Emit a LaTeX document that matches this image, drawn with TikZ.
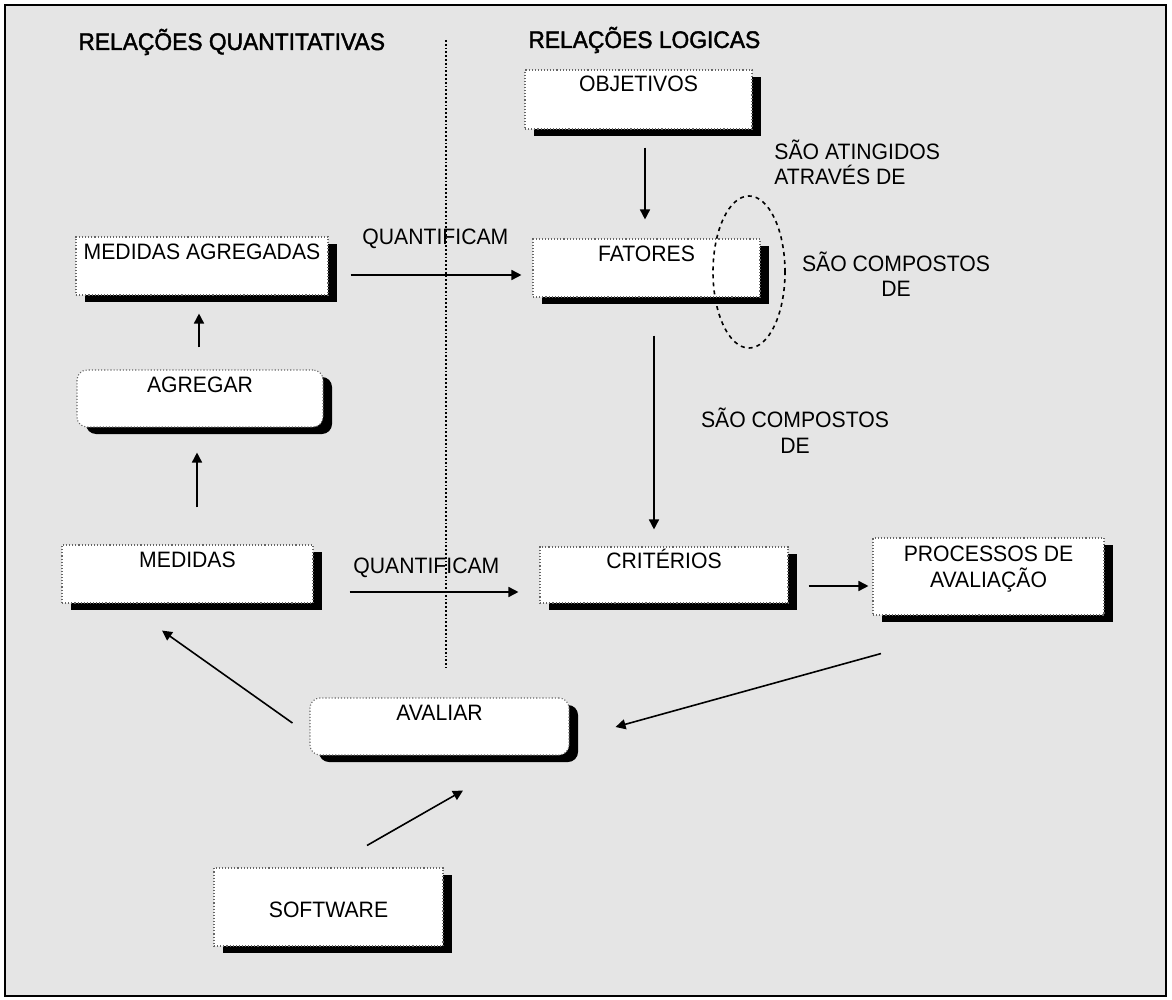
\documentclass[tikz,border=0pt]{standalone}
\usepackage{fontspec}
\setmainfont{Liberation Sans}[FakeStretch=0.95]
\newfontfamily\headfam{Liberation Sans}[FakeStretch=0.95,FakeBold=1.8]
\usetikzlibrary{arrows.meta,calc,shadows}
\newcommand\bxfont{\fontsize{11.15pt}{12.75pt}\selectfont}
\newcommand\hdfont{\headfam\fontsize{12pt}{14pt}\selectfont}
% two centred lines / two left-aligned lines; baseline = last line
\newcommand\twoc[2]{\vbox{\halign{\hfil##\hfil\cr#1\cr#2\cr}}}
\newcommand\twol[2]{\vbox{\halign{##\hfil\cr#1\cr#2\cr}}}
\begin{document}
\begin{tikzpicture}[x=0.5pt,y=-0.5pt,
  box/.style={draw=black!60, densely dotted, line width=0.55pt, fill=white,
    inner sep=0pt, font=\bxfont,
    drop shadow={shadow xshift=4.5pt, shadow yshift=-3.5pt, fill=black, opacity=1}},
  rbox/.style={box, rounded corners=5pt},
  lbl/.style={inner sep=0pt, font=\bxfont},
  head/.style={inner sep=0pt, font=\hdfont},
  arr/.style={-{Triangle[length=5pt,width=5pt]}, line width=0.8pt},
  divider/.style={densely dotted, line width=0.9pt},
  group/.style={dash pattern=on 2pt off 2pt, line width=0.8pt}]

\useasboundingbox (0,0) rectangle (1172,1000);
\fill[white] (0,0) rectangle (1172,1000);
\draw[fill=black!10, line width=1.1pt] (5,5) rectangle (1166,996);

% headings and the dividing line
\node[head, anchor=base west] (hquant) at (78,50) {RELAÇÕES QUANTITATIVAS};
\node[head, anchor=base west] (hlog) at (528,48) {RELAÇÕES LOGICAS};
\draw[divider] (446,40) -- (446,668);

% boxes
\node[box, minimum width=113.5pt, minimum height=29.5pt, text height=11pt, text depth=18.5pt]
  (objetivos) at (638.5,99.5) {OBJETIVOS};
\node[box, minimum width=113.5pt, minimum height=29pt, text height=11.5pt, text depth=17.5pt]
  (fatores) at (646.5,268) {FATORES};
\node[box, minimum width=126pt, minimum height=29pt, text height=11.5pt, text depth=17.5pt]
  (medagr) at (202,266) {MEDIDAS AGREGADAS};
\node[rbox, minimum width=123pt, minimum height=28.5pt, text height=11pt, text depth=17.5pt]
  (agregar) at (200,398.5) {AGREGAR};
\node[box, minimum width=125.5pt, minimum height=29pt, text height=11pt, text depth=18pt]
  (medidas) at (187.5,574) {MEDIDAS};
\node[box, minimum width=124pt, minimum height=28pt, text height=10.5pt, text depth=17.5pt]
  (criterios) at (664,575) {CRITÉRIOS};
\node[box, minimum width=115.5pt, minimum height=38.5pt, text height=24.5pt, text depth=14pt]
  (processos) at (988.5,576.5) {\twoc{PROCESSOS DE}{AVALIAÇÃO}};
\node[rbox, minimum width=129.5pt, minimum height=28.5pt, text height=11pt, text depth=17.5pt]
  (avaliar) at (439.5,726.5) {AVALIAR};
\node[box, minimum width=114.5pt, minimum height=39pt, text height=24.5pt, text depth=14.5pt]
  (software) at (328.5,907) {SOFTWARE};

% relation labels
\node[lbl, anchor=base west] (qtop) at (362,245) {QUANTIFICAM};
\node[lbl, anchor=base west] (qbot) at (353,573) {QUANTIFICAM};
\node[lbl, anchor=base west] (atingidos) at (774,185) {\twol{SÃO ATINGIDOS}{ATRAVÉS DE}};
\node[lbl, anchor=base] (comp1) at (896,297) {\twoc{SÃO COMPOSTOS}{DE}};
\node[lbl, anchor=base] (comp2) at (795,453) {\twoc{SÃO COMPOSTOS}{DE}};

% grouping ellipse around the factors
\draw[group] (749,272) ellipse [x radius=18pt, y radius=38pt];

% connectors
\draw[arr] ($(objetivos.south)+(6.5,18)$) -- ($(fatores.north)+(-1.5,-19)$);
\draw[arr] ($(fatores.south)+(7.5,38)$) -- ($(criterios.north)+(-10,-17)$);
\draw[arr] ($(medagr.east)+(22,9)$) -- ($(fatores.west)+(-11,7)$);
\draw[arr] ($(medidas.east)+(36,18)$) -- ($(criterios.west)+(-21,17)$);
\draw[arr] ($(criterios.east)+(20,11)$) -- ($(processos.west)+(-4,9.5)$);
\draw[arr] ($(agregar.north)+(-1,-22)$) -- ($(medagr.south)+(-3,18)$);
\draw[arr] ($(medidas.north)+(9.5,-37)$) -- ($(agregar.south)+(-3,25)$);
\draw[arr] ($(processos.south)+(-107.5,38)$) -- ($(avaliar.east)+(46,0.5)$);
\draw[arr] ($(avaliar.west)+(-17,-3.5)$) -- ($(medidas.south)+(-25.5,27)$);
\draw[arr] ($(software.north)+(38.5,-22)$) -- ($(avaliar.south)+(23.5,35)$);
\end{tikzpicture}
\end{document}
